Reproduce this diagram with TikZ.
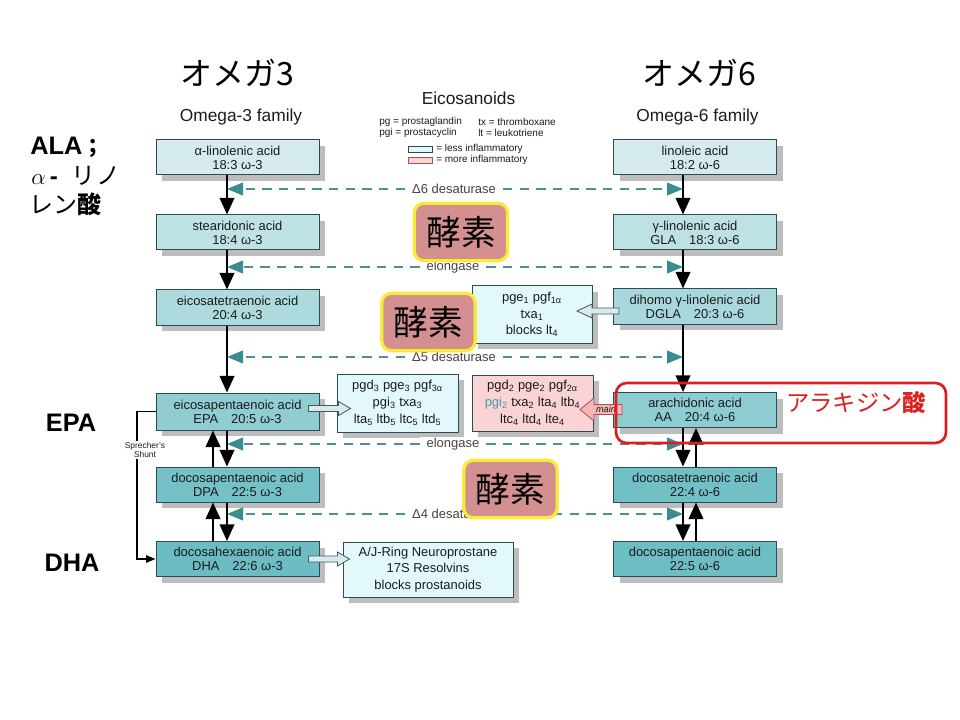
\documentclass[tikz,border=0pt]{standalone}
\usepackage{fontspec}
\setmainfont{Liberation Sans}
\newfontfamily\jp{Noto Sans CJK JP}
\usetikzlibrary{arrows.meta,calc,shadows}

\definecolor{boxedge}{HTML}{2B4B55}
\definecolor{textc}{HTML}{1B1B1B}
\definecolor{shadowc}{HTML}{BDBDBD}
\definecolor{Lone}{HTML}{D4EAED}
\definecolor{Ltwo}{HTML}{BFE2E5}
\definecolor{Lthree}{HTML}{ACDADD}
\definecolor{Lfour}{HTML}{8FCDD2}
\definecolor{Lfive}{HTML}{74C1C7}
\definecolor{Lsix}{HTML}{6BBCC3}
\definecolor{Rone}{HTML}{D4EAED}
\definecolor{Rtwo}{HTML}{BEE1E4}
\definecolor{Rthree}{HTML}{A9D8DC}
\definecolor{Rfour}{HTML}{8DCDD2}
\definecolor{Rfive}{HTML}{71C0C6}
\definecolor{Rsix}{HTML}{6DBDC4}
\definecolor{lesscol}{HTML}{E2F8FB}
\definecolor{morecol}{HTML}{FAD4D4}
\definecolor{pgicol}{HTML}{3FA0A8}
\definecolor{tealdash}{HTML}{4E9095}
\definecolor{tealhead}{HTML}{3A8C93}
\definecolor{enzlab}{HTML}{444444}
\definecolor{kosofill}{HTML}{D49090}
\definecolor{kosoedge}{HTML}{F8EC3A}
\definecolor{annred}{HTML}{DD1E1E}
\definecolor{harrowfill}{HTML}{D8EAEC}
\definecolor{harrowedge}{HTML}{3E5A60}
\definecolor{mainfill}{HTML}{F5B5B5}
\definecolor{mainedge}{HTML}{B05050}

\begin{document}
\begin{tikzpicture}[x=0.75pt,y=-0.75pt,
  acid/.style={draw=boxedge, line width=0.75pt, minimum width=122.25pt,
    minimum height=26.25pt, inner sep=0pt, align=center, text=textc,
    font=\fontsize{9.7}{10.4}\selectfont,
    drop shadow={shadow xshift=4.5pt, shadow yshift=-4.5pt, fill=shadowc, opacity=1}},
  prod/.style={acid, font=\fontsize{9.7}{12.6}\selectfont},
  blk/.style={line width=1.5pt, black, -{Triangle[length=12.5pt,width=11pt]}},
  tdash/.style={line width=1.5pt, tealdash, dash pattern=on 7pt off 5.5pt,
    -{Triangle[length=12pt,width=9.5pt,color=tealhead]}},
  enz/.style={fill=white, inner xsep=5pt, inner ysep=1pt, text=enzlab,
    font=\fontsize{9.75}{10}\selectfont},
  koso/.style={draw=kosoedge, line width=2.4pt, fill=kosofill, rounded corners=7pt,
    minimum width=70pt, minimum height=43pt, inner sep=0pt,
    font=\jp\fontsize{26}{26}\selectfont},
  harrow/.style={draw=harrowedge, fill=harrowfill, line width=0.6pt},
  mainarrow/.style={draw=mainedge, fill=mainfill, line width=0.6pt},
  legtxt/.style={anchor=west, inner sep=0pt, text=textc, font=\fontsize{7.5}{8}\selectfont},
  bigbold/.style={font=\bfseries\fontsize{19}{19}\selectfont, inner sep=0pt},
]
\useasboundingbox (0,0) rectangle (960,720);

% titles
\node[font=\jp\fontsize{24}{24}\selectfont] (t3) at (237.5,73) {オメガ3};
\node[font=\jp\fontsize{24}{24}\selectfont] (t6) at (699.5,73) {オメガ6};
\node[font=\fontsize{13}{13}\selectfont, text=textc] (f3) at (241,117) {Omega-3 family};
\node[font=\fontsize{13}{13}\selectfont, text=textc] (f6) at (697.5,117) {Omega-6 family};
\node[font=\fontsize{13}{13}\selectfont, text=textc] (eic) at (468.5,98) {Eicosanoids};

% legend
\node[legtxt] (lg1) at (379,122) {pg = prostaglandin};
\node[legtxt] (lg2) at (478,122) {tx = thromboxane};
\node[legtxt] (lg3) at (379,133) {pgi = prostacyclin};
\node[legtxt] (lg4) at (478,133) {lt = leukotriene};
\node[draw=boxedge, fill=lesscol, line width=0.5pt, minimum width=18pt, minimum height=4.5pt, inner sep=0pt] (lr1) at (420,149) {};
\node[draw=mainedge, fill=morecol, line width=0.5pt, minimum width=18pt, minimum height=4.5pt, inner sep=0pt] (lr2) at (420,160) {};
\node[legtxt] (lt1) at (436,148.5) {= less inflammatory};
\node[legtxt] (lt2) at (436,159.5) {= more inflammatory};

% left labels
\node[bigbold, anchor=west] (alal) at (30,147) {ALA{\jp\bfseries\fontsize{16}{16}\selectfont ；}};
\node[anchor=west, inner sep=0pt, font=\fontsize{18}{18}\selectfont] (alph) at (31,176)
  {$\alpha$\hspace{3pt}\textbf{-}\hspace{10pt}{\jp リ\hspace{1pt}ノ}};
\node[anchor=west, inner sep=0pt, font=\jp\fontsize{18}{18}\selectfont] (lensan) at (29,204)
  {レン\textbf{酸}};
\node[bigbold] (epal) at (71,423) {EPA};
\node[bigbold] (dhal) at (72,563) {DHA};

% column coordinates
\coordinate (cl) at (227,0);
\coordinate (cltwo) at (213,0);
\coordinate (cr) at (683,0);
\coordinate (crtwo) at (696,0);
\coordinate (sh) at (137,0);

% omega-3 boxes
\node[acid, fill=Lone] (ala) at (237.5,157.5) {α-linolenic acid\\18:3 ω-3};
\node[acid, fill=Ltwo] (sda) at (237.5,232.5) {stearidonic acid\\18:4 ω-3};
\node[acid, fill=Lthree] (eta) at (237.5,307.5) {eicosatetraenoic acid\\20:4 ω-3};
\node[acid, fill=Lfour, minimum height=27.75pt] (epa) at (237.5,411.5) {eicosapentaenoic acid\\EPA\hspace{1em}20:5 ω-3};
\node[acid, fill=Lfive] (dpa) at (237.5,484.5) {docosapentaenoic acid\\DPA\hspace{1em}22:5 ω-3};
\node[acid, fill=Lsix] (dha) at (237.5,559) {docosahexaenoic acid\\DHA\hspace{1em}22:6 ω-3};

% omega-6 boxes
\node[acid, fill=Rone] (la) at (695,157.5) {linoleic acid\\18:2 ω-6};
\node[acid, fill=Rtwo] (gla) at (695,232.5) {γ-linolenic acid\\GLA\hspace{1em}18:3 ω-6};
\node[acid, fill=Rthree] (dgla) at (695,306.5) {dihomo γ-linolenic acid\\DGLA\hspace{1em}20:3 ω-6};
\node[acid, fill=Rfour] (aa) at (695,410) {arachidonic acid\\AA\hspace{1em}20:4 ω-6};
\node[acid, fill=Rfive] (dta) at (695,484.5) {docosatetraenoic acid\\22:4 ω-6};
\node[acid, fill=Rsix] (dpasix) at (695,559) {docosapentaenoic acid\\22:5 ω-6};

% eicosanoid boxes
\node[prod, fill=lesscol, minimum width=90pt, minimum height=42.75pt] (pone) at (532,314.5)
  {pge\textsubscript{1} pgf\textsubscript{1α}\\txa\textsubscript{1}\\blocks lt\textsubscript{4}};
\node[prod, fill=lesscol, minimum width=90.75pt, minimum height=43.5pt] (pthree) at (397.5,403)
  {pgd\textsubscript{3} pge\textsubscript{3} pgf\textsubscript{3α}\\pgi\textsubscript{3} txa\textsubscript{3}\\lta\textsubscript{5} ltb\textsubscript{5} ltc\textsubscript{5} ltd\textsubscript{5}};
\node[prod, fill=morecol, minimum width=90.75pt, minimum height=42pt] (ptwo) at (532.5,403)
  {pgd\textsubscript{2} pge\textsubscript{2} pgf\textsubscript{2α}\\{\color{pgicol}pgi\textsubscript{2}} txa\textsubscript{2} lta\textsubscript{4} ltb\textsubscript{4}\\ltc\textsubscript{4} ltd\textsubscript{4} lte\textsubscript{4}};
\node[prod, fill=lesscol, minimum width=127.5pt, minimum height=41.25pt] (pd) at (428,569.5)
  {A/J-Ring Neuroprostane\\17S Resolvins\\blocks prostanoids};

% vertical arrows, omega-3
\draw[blk] (ala.south -| cl) -- (sda.north -| cl);
\draw[blk] (sda.south -| cl) -- (eta.north -| cl);
\draw[blk] (eta.south -| cl) -- (epa.north -| cl);
\draw[blk] (epa.south -| cl) -- (dpa.north -| cl);
\draw[blk] (dpa.north -| cltwo) -- (epa.south -| cltwo);
\draw[blk] (dpa.south -| cl) -- (dha.north -| cl);
\draw[blk] (dha.north -| cltwo) -- (dpa.south -| cltwo);

% vertical arrows, omega-6
\draw[blk] (la.south -| cr) -- (gla.north -| cr);
\draw[blk] (gla.south -| cr) -- (dgla.north -| cr);
\draw[blk] (dgla.south -| cr) -- (aa.north -| cr);
\draw[blk] (aa.south -| cr) -- (dta.north -| cr);
\draw[blk] (dta.north -| crtwo) -- (aa.south -| crtwo);
\draw[blk] (dta.south -| cr) -- (dpasix.north -| cr);
\draw[blk] (dpasix.north -| crtwo) -- (dta.south -| crtwo);

% enzyme rows
\node[enz] (dsix) at (454,189) {Δ6 desaturase};
\node[enz] (elone) at (453,267) {elongase};
\node[enz] (dfive) at (454,357) {Δ5 desaturase};
\node[enz] (eltwo) at (453,444) {elongase};
\node[enz] (dfour) at (454,514) {Δ4 desaturase};
\foreach \n in {dsix,elone,dfive,eltwo,dfour}{
  \draw[tdash] (\n.west) -- (\n.west -| cl);
  \draw[tdash] (\n.east) -- (\n.east -| cr);
}

% block arrows
\draw[harrow] ($(dgla.west)+(6,1.5)$) -- ++(-27,0) -- ++(0,-4) -- ++(-15,7) -- ++(15,7) -- ++(0,-4) -- ++(27,0) -- cycle;
\draw[harrow] ($(epa.east)+(-11,-6)$) -- ++(30,0) -- ++(0,-4) -- ++(12,7) -- ++(-12,7) -- ++(0,-4) -- ++(-30,0) -- cycle;
\draw[harrow] ($(dha.east)+(-11,-3)$) -- ++(29,0) -- ++(0,-4) -- ++(12,7) -- ++(-12,7) -- ++(0,-4) -- ++(-29,0) -- cycle;
\draw[mainarrow] ($(aa.west)+(9,-5.5)$) -- ++(-28,0) -- ++(0,-6.5) -- ++(-14,11.5) -- ++(14,11.5) -- ++(0,-6.5) -- ++(28,0) -- cycle;
\node[font=\itshape\fontsize{6.8}{6.8}\selectfont, inner sep=0pt, text=textc] (mainlab) at (606,409.5) {main};

% Sprecher's shunt
\draw[line width=1pt, black, -{Triangle[length=7pt,width=5.5pt]}]
  (epa.west) -- (epa.west -| sh) -- (dha.west -| sh) -- (dha.west);
\node[fill=white, inner sep=1pt, align=center, text=textc,
  font=\fontsize{6.3}{6.6}\selectfont] (shl) at (145,450) {Sprecher's\\Shunt};

% 酵素 boxes
\node[koso] (kone) at (461,232) {酵素};
\node[koso] (ktwo) at (428.5,322) {酵素};
\node[koso] (kthree) at (510.5,489) {酵素};

% annotation
\node[draw=annred, line width=2pt, rounded corners=8pt, minimum width=247.5pt, minimum height=45pt, inner sep=0pt] (ann) at (781,413) {};
\node[text=annred, font=\jp\fontsize{17.5}{17.5}\selectfont, inner sep=0pt] (arak) at (856,403) {アラキジン\textbf{酸}};
\end{tikzpicture}
\end{document}
